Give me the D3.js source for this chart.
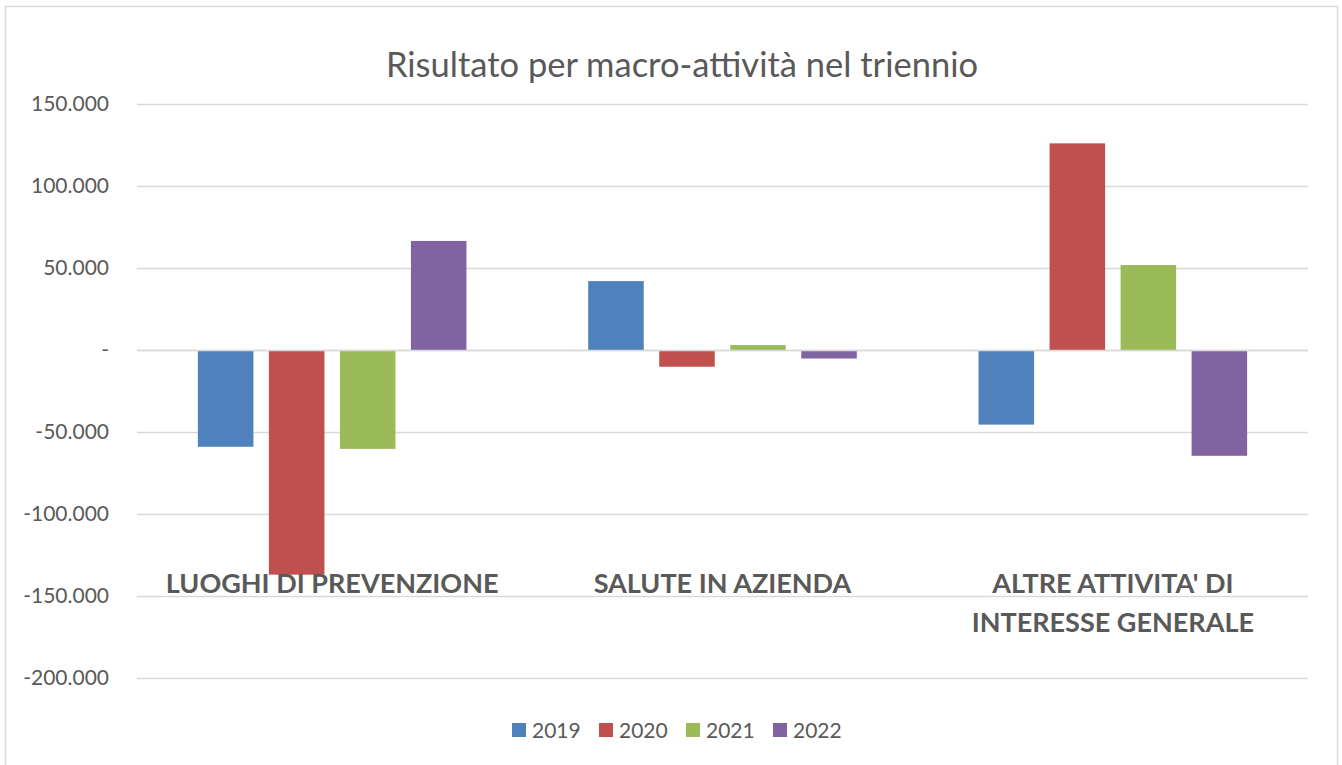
<!DOCTYPE html>
<html>
<head>
<meta charset="utf-8">
<script src="https://cdn.jsdelivr.net/npm/d3@7"></script>
<style>
  body { margin: 0; background: #fff; }
  svg { display: block; font-family: Lato, "Open Sans", sans-serif; }
</style>
</head>
<body>
<div id="chart"></div>
<script>
// Data
const categories = ["LUOGHI DI PREVENZIONE", "SALUTE IN AZIENDA", "ALTRE ATTIVITA' DI INTERESSE GENERALE"];
const years = ["2019", "2020", "2021", "2022"];
const values2019 = [-59000, 42000, -45500];
const values2020 = [-137000, -10200, 126000];
const values2021 = [-60300, 3000, 51800];
const values2022 = [66500, -5200, -64500];
const yTicks = [150000, 100000, 50000, 0, -50000, -100000, -150000, -200000];
const colors = ["#4F81BD", "#C0504D", "#9BBB59", "#8064A2"];

const series = [values2019, values2020, values2021, values2022];

const width = 1342, height = 765;

const svg = d3.select("#chart")
    .append("svg")
    .attr("width", width)
    .attr("height", height);

// Chart border
svg.append("rect")
    .attr("x", 5.5)
    .attr("y", 6.5)
    .attr("width", 1332)
    .attr("height", 770)
    .attr("fill", "none")
    .attr("stroke", "#d9d9d9")
    .attr("stroke-width", 1.5);

// Title
svg.append("text")
    .attr("x", 682)
    .attr("y", 77)
    .attr("text-anchor", "middle")
    .attr("fill", "#595959")
    .style("font-size", "34.5px")
    .text("Risultato per macro-attività nel triennio");

// Scales
const x0 = d3.scaleBand()
    .domain(categories)
    .range([137, 1308])
    .padding(0);

const x1 = d3.scaleBand()
    .domain(years)
    .range([0, x0.bandwidth()])
    .paddingInner(0.218)
    .paddingOuter(0.857);

const y = d3.scaleLinear()
    .domain([-200000, 150000])
    .range([678, 104]);

const color = d3.scaleOrdinal()
    .domain(years)
    .range(colors);

// Italian style numbers, hyphen for minus
const it = d3.formatLocale({decimal: ",", thousands: ".", grouping: [3], currency: ["€", ""], minus: "-"});

// Gridlines
svg.append("g")
    .selectAll("line")
    .data(yTicks)
    .enter()
    .append("line")
    .attr("x1", 137)
    .attr("x2", 1308)
    .attr("y1", d => Math.round(y(d)) + 0.5)
    .attr("y2", d => Math.round(y(d)) + 0.5)
    .attr("stroke", "#d9d9d9")
    .attr("stroke-width", 1.5);

// Y axis labels
const yAxis = d3.axisLeft(y)
    .tickValues(yTicks)
    .tickSize(0)
    .tickPadding(0)
    .tickFormat(d => d === 0 ? "-" : it.format(",")(d));

const yg = svg.append("g")
    .attr("transform", "translate(109,0)")
    .call(yAxis);
yg.select(".domain").remove();
yg.selectAll("text")
    .attr("fill", "#595959")
    .style("font-size", "21px")
    .style("font-family", "Lato, sans-serif");

// Bars
const groups = svg.selectAll(".bar-group")
    .data(categories)
    .enter()
    .append("g")
    .attr("class", "bar-group")
    .attr("transform", d => `translate(${x0(d)},0)`);

groups.selectAll("rect")
    .data((d, i) => years.map((yr, j) => ({year: yr, value: series[j][i]})))
    .enter()
    .append("rect")
    .attr("x", d => x1(d.year))
    .attr("y", d => y(Math.max(0, d.value)))
    .attr("width", x1.bandwidth())
    .attr("height", d => Math.abs(y(d.value) - y(0)))
    .attr("fill", d => color(d.year));

// Zero line above bars
svg.append("line")
    .attr("x1", 137)
    .attr("x2", 1308)
    .attr("y1", Math.round(y(0)) + 0.5)
    .attr("y2", Math.round(y(0)) + 0.5)
    .attr("stroke", "#d9d9d9")
    .attr("stroke-width", 1.5);

// Category labels
const catLines = [["LUOGHI DI PREVENZIONE"], ["SALUTE IN AZIENDA"], ["ALTRE ATTIVITA' DI", "INTERESSE GENERALE"]];
categories.forEach((c, i) => {
    const t = svg.append("text")
        .attr("x", x0(c) + x0.bandwidth() / 2)
        .attr("y", 593)
        .attr("text-anchor", "middle")
        .attr("fill", "#595959")
        .style("font-size", "27px")
        .style("font-weight", "bold");
    catLines[i].forEach((ln, k) => {
        t.append("tspan")
            .attr("x", x0(c) + x0.bandwidth() / 2)
            .attr("dy", k === 0 ? 0 : 39)
            .text(ln);
    });
});

// Legend
const legend = svg.append("g")
    .attr("transform", "translate(512,723)");

years.forEach((yr, i) => {
    legend.append("rect")
        .attr("x", i * 87)
        .attr("y", 0)
        .attr("width", 14)
        .attr("height", 14)
        .attr("fill", color(yr));
    legend.append("text")
        .attr("x", i * 87 + 20)
        .attr("y", 14.5)
        .attr("fill", "#595959")
        .style("font-size", "21px")
        .text(yr);
});
</script>
</body>
</html>
